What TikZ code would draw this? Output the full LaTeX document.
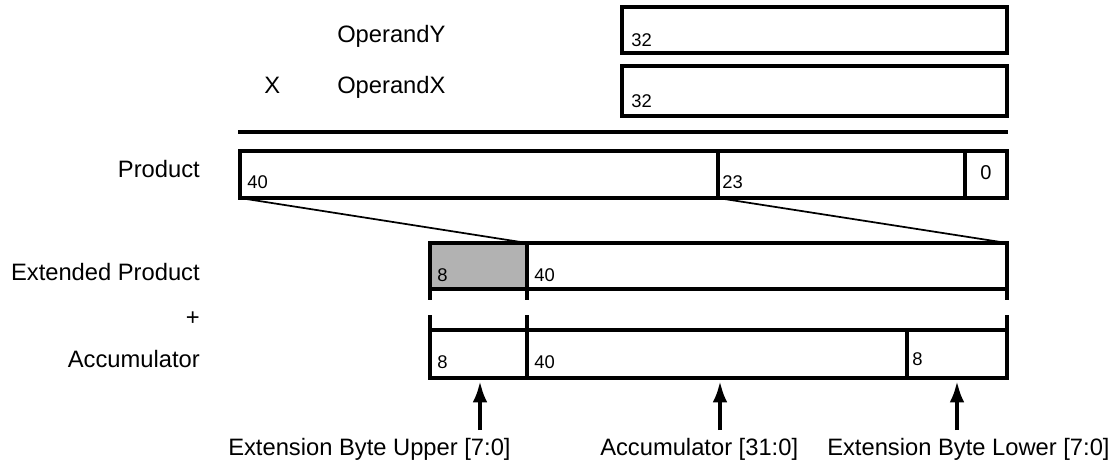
\documentclass[tikz,border=0pt]{standalone}
\usepackage{fontspec}
\setmainfont{Liberation Sans}
\usetikzlibrary{arrows.meta,positioning,calc}

\tikzset{
  reg/.style={line width=2.9pt},
  fan/.style={line width=1.3pt},
  lbl/.style={inner sep=0pt, font=\fontsize{17.8}{20}\selectfont},
  bits/.style={inner sep=0pt, anchor=base west, font=\fontsize{13.8}{15}\selectfont},
  ptr/.style={line width=2.9pt, -{Latex[length=16pt,width=11pt]}}
}

\begin{document}
\begin{tikzpicture}[x=0.75pt, y=-0.75pt]
\useasboundingbox (0,0) rectangle (1114,462);

% operands
    \draw[reg] (622,7) rectangle (1007,53);
    \draw[reg] (622,66) rectangle (1007,116);
    \node[bits] (ny) at (631,46) {32};
    \node[bits] (nx) at (631,107) {32};
    \node[lbl, anchor=base west] (opy) at (337,42) {OperandY};
    \node[lbl, anchor=base west] (opx) at (337,93) {OperandX};
    \node[lbl, anchor=base west] (times) at (264,93) {X};
    \draw[reg] (238,132) -- (1008,132);

% product
    \draw[reg] (240,151) rectangle (1007,198);
    \draw[reg] (718,151) -- (718,198) (965,151) -- (965,198);
    \coordinate (pl) at (240,198);
    \coordinate (pd) at (718,198);
    \node[lbl, anchor=base east] (prod) at (200,177) {Product};
    \node[bits] (p40) at (247,188) {40};
    \node[bits] (p23) at (722,188) {23};
    \node[bits, anchor=base, font=\fontsize{15}{17}\selectfont] (p0) at (986,179) {0};

% extended product
    \fill[gray!60] (430,243) rectangle (527,289);
    \draw[reg] (430,243) rectangle (1007,289);
    \draw[reg] (527,243) -- (527,289);
    \coordinate (ed) at (527,243);
    \coordinate (er) at (1007,243);
    \draw[fan] (pl) -- (ed);
    \draw[fan] (pd) -- (er);
    \node[lbl, anchor=base east] (ext) at (200,280) {Extended Product};
    \node[bits] (e8) at (437,281) {8};
    \node[bits] (e40) at (534,281) {40};
    \node[lbl, anchor=base east] (plus) at (200,325) {+};

% accumulator
    \draw[reg] (430,330) rectangle (1007,378);
    \draw[reg] (527,330) -- (527,378) (907,330) -- (907,378);
    \foreach \x in {430,527,1007}
      \draw[reg] (\x,289) -- (\x,300) (\x,315) -- (\x,330);
    \node[lbl, anchor=base east] (acc) at (200,367) {Accumulator};
    \node[bits] (a8) at (437,368) {8};
    \node[bits] (a40) at (534,368) {40};
    \node[bits] (a8l) at (912,365) {8};

% fields
    \coordinate (fu) at (480,381);
    \coordinate (fa) at (720,381);
    \coordinate (fl) at (957,381);
    \coordinate (gu) at (480,430);
    \coordinate (ga) at (720,430);
    \coordinate (gl) at (957,430);
    \draw[ptr] (gu) -- (fu);
    \draw[ptr] (ga) -- (fa);
    \draw[ptr] (gl) -- (fl);
    \node[lbl, anchor=base west] (xu) at (228,455) {Extension Byte Upper [7:0]};
    \node[lbl, anchor=base west] (xa) at (600,455) {Accumulator [31:0]};
    \node[lbl, anchor=base west] (xl) at (827,455) {Extension Byte Lower [7:0]};
\end{tikzpicture}
\end{document}
